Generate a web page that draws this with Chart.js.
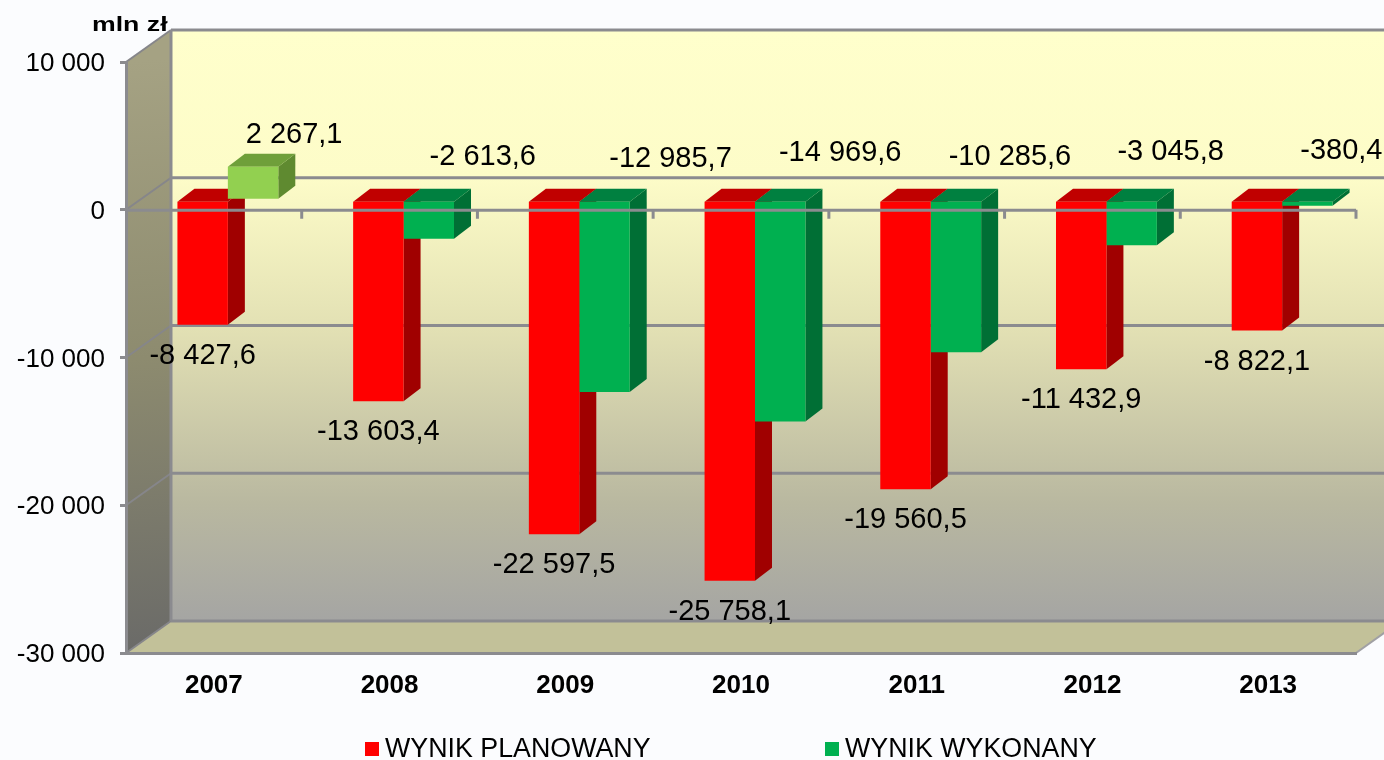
<!DOCTYPE html>
<html><head><meta charset="utf-8">
<style>html,body{margin:0;padding:0;background:#fbfcfe;overflow:hidden}canvas{display:block}</style>
<script src="https://cdn.jsdelivr.net/npm/chart.js@4"></script>
</head><body>
<div style="position:relative;width:1384px;height:760px"><canvas id="c"></canvas></div>
<script>
const categories = ['2007','2008','2009','2010','2011','2012','2013'];
const planned = [-8427.6,-13603.4,-22597.5,-25758.1,-19560.5,-11432.9,-8822.1];
const actual = [2267.1,-2613.6,-12985.7,-14969.6,-10285.6,-3045.8,-380.4];
const seriesNames = ['WYNIK PLANOWANY','WYNIK WYKONANY'];
const unitLabel = 'mln zł';

// Hand-placed label nudges (px) for the actual series, relative to the zero line
const actualLabelNudge = [[41,-75],[54,-53],[66,-51],[60,-57],[54,-53],[39,-58],[34,-59]];
const legendBoxes = [[365,742,14,14,385],[825,742,14,14,845]];

const GREY='#8b8b8f', WALL=[45,-32], BAR=[14,-9.5], DEPTH=[17,-13];
const FONT='"Liberation Sans",Arial,sans-serif';
const fmt=v=>{
  const a=Math.abs(v).toFixed(1).split('.');
  return (v<0?'-':'')+a[0].replace(/\B(?=(\d{3})+$)/g,' ')+','+a[1];
};
function poly(ctx,pts,fill){
  ctx.beginPath();pts.forEach((p,i)=>i?ctx.lineTo(p[0],p[1]):ctx.moveTo(p[0],p[1]));ctx.closePath();
  ctx.fillStyle=fill;ctx.fill();
}
function line(ctx,x1,y1,x2,y2,w,c){
  ctx.beginPath();ctx.moveTo(x1,y1);ctx.lineTo(x2,y2);ctx.lineWidth=w;ctx.strokeStyle=c||GREY;ctx.stroke();
}
function shiftLabels(s,dy){
  if(s._shifted)return;s._shifted=true;
  const d=s.drawLabels;
  s.drawLabels=function(a){const c=this.ctx;c.save();c.translate(0,dy);d.call(this,a);c.restore();};
}
const depthColors=[{top:'#c00000',side:'#a00000'},{top:'#008040',side:'#006f35'}];
const depthColors2007={top:'#6f9f3a',side:'#5f8a30'};

const scene3d={
  id:'scene3d',
  beforeDraw(chart){
    const {ctx,chartArea:a,scales:{y}}=chart;
    const [dx,dy]=WALL,L=a.left,R=a.right,T=a.top,B=a.bottom;
    ctx.save();
    let g=ctx.createLinearGradient(0,T+dy,0,B+dy);
    g.addColorStop(0,'#ffffcc');g.addColorStop(.25,'#fdfcc8');g.addColorStop(.5,'#e3e1b4');
    g.addColorStop(.8,'#b9b8a0');g.addColorStop(1,'#a5a5a3');
    poly(ctx,[[L+dx,T+dy],[R+dx,T+dy],[R+dx,B+dy],[L+dx,B+dy]],g);
    g=ctx.createLinearGradient(L,T,L+dx*1.2,B);
    g.addColorStop(0,'#a5a283');g.addColorStop(.5,'#8d8b6f');g.addColorStop(1,'#6a6a68');
    poly(ctx,[[L,T],[L+dx,T+dy],[L+dx,B+dy],[L,B]],g);
    poly(ctx,[[L,B],[L+dx,B+dy],[R+dx,B+dy],[R,B]],'#c2c199');
    y.ticks.forEach(t=>{
      const py=y.getPixelForValue(t.value);
      line(ctx,L,py,L+dx,py+dy,2,'#86868a');
      line(ctx,L+dx,py+dy,R+dx,py+dy,3);
    });
    line(ctx,R,B,R+dx,B+dy,2,'#a0a0a4');
    line(ctx,L+dx,T+dy,L+dx,B+dy,3);
    ctx.restore();
  },
  beforeDatasetsDraw(chart){
    const {ctx}=chart,[ex,ey]=DEPTH;
    ctx.save();ctx.translate(BAR[0],BAR[1]);
    chart.data.datasets.forEach((ds,di)=>{
      chart.getDatasetMeta(di).data.forEach((el,i)=>{
        const c=(di===1&&ds.data[i]>0)?depthColors2007:depthColors[di];
        const l=el.x-el.width/2,r=el.x+el.width/2,top=Math.min(el.y,el.base),bot=Math.max(el.y,el.base);
        poly(ctx,[[r,top],[r+ex,top+ey],[r+ex,bot+ey],[r,bot]],c.side);
        poly(ctx,[[l,top],[l+ex,top+ey],[r+ex,top+ey],[r,top]],c.top);
      });
    });
  },
  afterDatasetsDraw(chart){
    const {ctx,chartArea:a,scales:{x,y}}=chart;
    ctx.restore();
    ctx.save();
    const zero=y.getPixelForValue(0);
    line(ctx,a.left,zero+.5,a.right,zero+.5,3);
    const step=(a.right-a.left)/categories.length;
    categories.forEach((_,i)=>{
      const px=x.getPixelForTick(i)+step/2;
      line(ctx,px,zero,px,zero+9,3);
    });
    // value labels
    ctx.fillStyle='#000';ctx.textAlign='center';ctx.textBaseline='middle';
    ctx.font='29px '+FONT;
    chart.getDatasetMeta(0).data.forEach((el,i)=>{
      ctx.fillText(fmt(planned[i]),el.x+BAR[0],el.y+BAR[1]+31);
    });
    chart.getDatasetMeta(1).data.forEach((el,i)=>{
      const [nx,ny]=actualLabelNudge[i];
      ctx.fillText(fmt(actual[i]),el.x+BAR[0]+nx,zero+ny);
    });
    // unit label
    ctx.save();ctx.textAlign='left';ctx.font='bold 21px '+FONT;
    ctx.translate(92,25);ctx.scale(1.27,1);
    ctx.fillText(unitLabel,0,0);ctx.restore();
    // legend
    ctx.textAlign='left';ctx.font='26.8px '+FONT;
    chart.data.datasets.forEach((ds,i)=>{
      const [bx,by,bw,bh,tx]=legendBoxes[i];
      ctx.fillStyle=i===0?'#ff0000':'#00b050';
      ctx.fillRect(bx,by,bw,bh);
      ctx.fillStyle='#000';
      ctx.fillText(ds.label,tx,750);
    });
    ctx.restore();
  }
};

new Chart(document.getElementById('c'),{
  type:'bar',
  data:{labels:categories,datasets:[
    {label:seriesNames[0],data:planned,backgroundColor:'#ff0000',clip:false},
    {label:seriesNames[1],data:actual,backgroundColor:actual.map(v=>v>0?'#92d050':'#00b050'),clip:false}
  ]},
  options:{
    responsive:true,maintainAspectRatio:false,animation:false,
    layout:{padding:{left:0,right:28,top:62,bottom:0}},
    datasets:{bar:{barPercentage:1,categoryPercentage:.574,borderWidth:0}},
    scales:{
      x:{
        grid:{display:false,drawTicks:false},
        border:{display:true,color:GREY,width:3},
        ticks:{color:'#000',font:{family:FONT,size:26,weight:'bold'},padding:17,maxRotation:0},
        afterFit(s){s.height=107;}
      },
      y:{
        min:-30000,max:10000,
        grid:{drawOnChartArea:false,drawTicks:true,tickLength:6,color:GREY,lineWidth:3},
        border:{display:true,color:GREY,width:3},
        ticks:{stepSize:10000,color:'#000',padding:15,font:{family:FONT,size:26},
          callback:v=>String(Math.abs(v)).replace(/\B(?=(\d{3})+$)/g,' ').replace(/^/,v<0?'-':'')},
        afterFit(s){s.width=126;},
        afterUpdate(s){shiftLabels(s,2);}
      }
    },
    plugins:{tooltip:{enabled:false},legend:{display:false}}
  },
  plugins:[scene3d]
});
</script>
</body></html>
